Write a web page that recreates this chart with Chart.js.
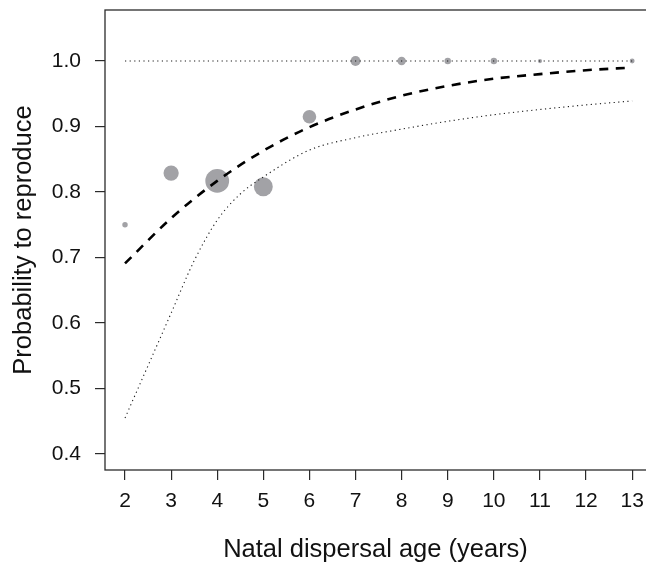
<!DOCTYPE html>
<html>
<head>
<meta charset="utf-8">
<script src="https://cdn.jsdelivr.net/npm/chart.js@4.4.0/dist/chart.umd.min.js"></script>
<style>
  html, body { margin: 0; padding: 0; background: #fff; }
  #wrap { width: 646px; height: 565px; }
</style>
</head>
<body>
<div id="wrap"><canvas id="chart" width="646" height="565"></canvas></div>
<script>
// observed proportions per dispersal age, with sample sizes (circle area)
const ages = [2, 3, 4, 5, 6, 7, 8, 9, 10, 11, 13];
const observed = [0.75, 0.829, 0.817, 0.808, 0.915, 1.0, 1.0, 1.0, 1.0, 1.0, 1.0];
const sampleSize = [5, 39, 95, 60, 31, 17, 12, 7, 7, 3, 4];

// fitted curve (dashed)
const fitAges = [2, 3, 4, 5, 6, 7, 8, 9, 10, 11, 12, 13];
const fitted = [0.691, 0.76, 0.817, 0.863, 0.899, 0.926, 0.947, 0.962, 0.973, 0.98, 0.986, 0.99];

// confidence limits (dotted)
const ciAges = [2, 2.5, 3, 3.5, 4, 4.5, 5, 6, 7, 8, 9, 10, 11, 12, 13];
const ciLower = [0.455, 0.535, 0.615, 0.695, 0.757, 0.797, 0.823, 0.864, 0.883, 0.896, 0.908, 0.918, 0.926, 0.933, 0.939];
const ciUpperAges = [2, 13];
const ciUpper = [1.0, 1.0];

const xTicks = [2, 3, 4, 5, 6, 7, 8, 9, 10, 11, 12, 13];
const yTicks = [0.4, 0.5, 0.6, 0.7, 0.8, 0.9, 1.0];

Chart.defaults.font.family = "'Liberation Sans', Arial, Helvetica, sans-serif";
Chart.defaults.color = '#111';

const pts = (xs, ys) => xs.map((x, i) => ({ x: x, y: ys[i] }));

// R style box round the plot region
const boxPlugin = {
  id: 'box',
  beforeDatasetsDraw(chart) {
    const { ctx, chartArea: a } = chart;
    ctx.save();
    ctx.strokeStyle = '#2b2b2b';
    ctx.lineWidth = 1.3;
    ctx.strokeRect(a.left, a.top, a.right - a.left + 10, a.bottom - a.top);
    ctx.restore();
  }
};

const dotted = {
  showLine: true,
  pointRadius: 0,
  borderColor: '#1a1a1a',
  borderWidth: 1.1,
  borderDash: [1.2, 3.4],
  cubicInterpolationMode: 'monotone',
  fill: false
};

new Chart(document.getElementById('chart'), {
  type: 'scatter',
  data: {
    datasets: [
      Object.assign({ label: 'upper', data: pts(ciUpperAges, ciUpper) }, dotted),
      Object.assign({ label: 'lower', data: pts(ciAges, ciLower) }, dotted),
      {
        label: 'fit',
        data: pts(fitAges, fitted),
        showLine: true,
        pointRadius: 0,
        borderColor: '#000',
        borderWidth: 2.6,
        borderDash: [9, 7.5],
        cubicInterpolationMode: 'monotone',
        fill: false
      },
      {
        label: 'observed',
        data: pts(ages, observed),
        pointRadius: sampleSize.map(n => 1.22 * Math.sqrt(n)),
        pointBackgroundColor: '#a2a2a6',
        pointBorderWidth: 0,
        borderColor: 'rgba(0,0,0,0)'
      }
    ]
  },
  options: {
    responsive: false,
    animation: false,
    layout: { autoPadding: false, padding: { top: 10, left: 0, right: 0, bottom: 0 } },
    plugins: { legend: { display: false }, tooltip: { enabled: false } },
    scales: {
      x: {
        type: 'linear',
        min: 1.566,
        max: 13.30,
        afterBuildTicks: s => { s.ticks = xTicks.map(v => ({ value: v })); },
        afterFit: s => { s.height = 95; s.paddingLeft = 0; s.paddingRight = 0; },
        ticks: { font: { size: 21 }, padding: 9, maxRotation: 0, autoSkip: false, callback: v => String(v) },
        grid: { drawOnChartArea: false, tickLength: 10, color: '#2b2b2b', lineWidth: 1.2 },
        border: { display: false },
        title: { display: true, text: 'Natal dispersal age (years)', font: { size: 25.5 }, padding: { top: 0, bottom: 0 } }
      },
      y: {
        type: 'linear',
        min: 0.3756,
        max: 1.0779,
        afterBuildTicks: s => { s.ticks = yTicks.map(v => ({ value: v })); },
        afterFit: s => { s.width = 105; s.paddingTop = 0; s.paddingBottom = 0; },
        ticks: { font: { size: 21 }, padding: 14, autoSkip: false, callback: v => v.toFixed(1) },
        grid: { drawOnChartArea: false, tickLength: 10, color: '#2b2b2b', lineWidth: 1.2 },
        border: { display: false },
        title: { display: true, text: 'Probability to reproduce', font: { size: 25.5 }, padding: { top: 9, bottom: 0 } }
      }
    }
  },
  plugins: [boxPlugin]
});
</script>
</body>
</html>
